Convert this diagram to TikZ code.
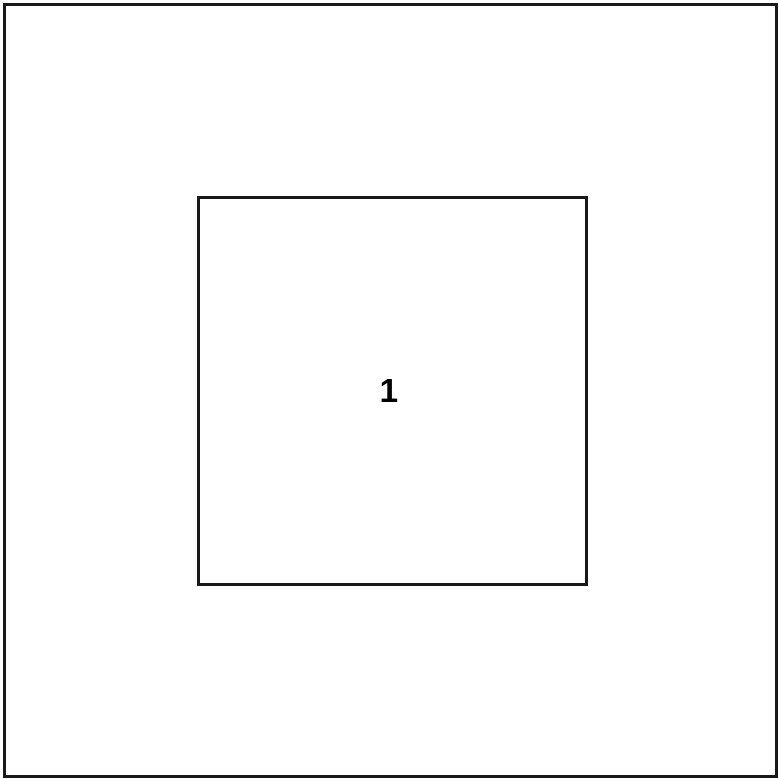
\documentclass[tikz,border=0pt]{standalone}
\usepackage{fontspec}
\setmainfont{Liberation Sans}
\begin{document}
\begin{tikzpicture}[x=0.01cm,y=-0.01cm,
  % outer frame and inner cell: plain black squares, no fill
  frame/.style={draw=black!90, line width=0.85pt, inner sep=0pt, outer sep=0pt},
  cell/.style={draw=black!90, line width=0.85pt, inner sep=0pt, outer sep=0pt,
               font=\fontsize{9.5}{11}\selectfont\bfseries},
  ]
  \useasboundingbox (0,0) rectangle (779,778);
  % ---- frame -----------------------------------------------------------------
  \node[frame, minimum width=7.71cm, minimum height=7.715cm] (outer) at (390.5,390.25) {};
  % ---- cell 1 ----------------------------------------------------------------
  \node[cell, minimum width=3.87cm, minimum height=3.86cm] (inner) at (392.5,391) {};
  \node[font=\fontsize{9.5}{11}\selectfont\bfseries, inner sep=0pt] (lab1) at (389,391) {1};
\end{tikzpicture}
\end{document}
